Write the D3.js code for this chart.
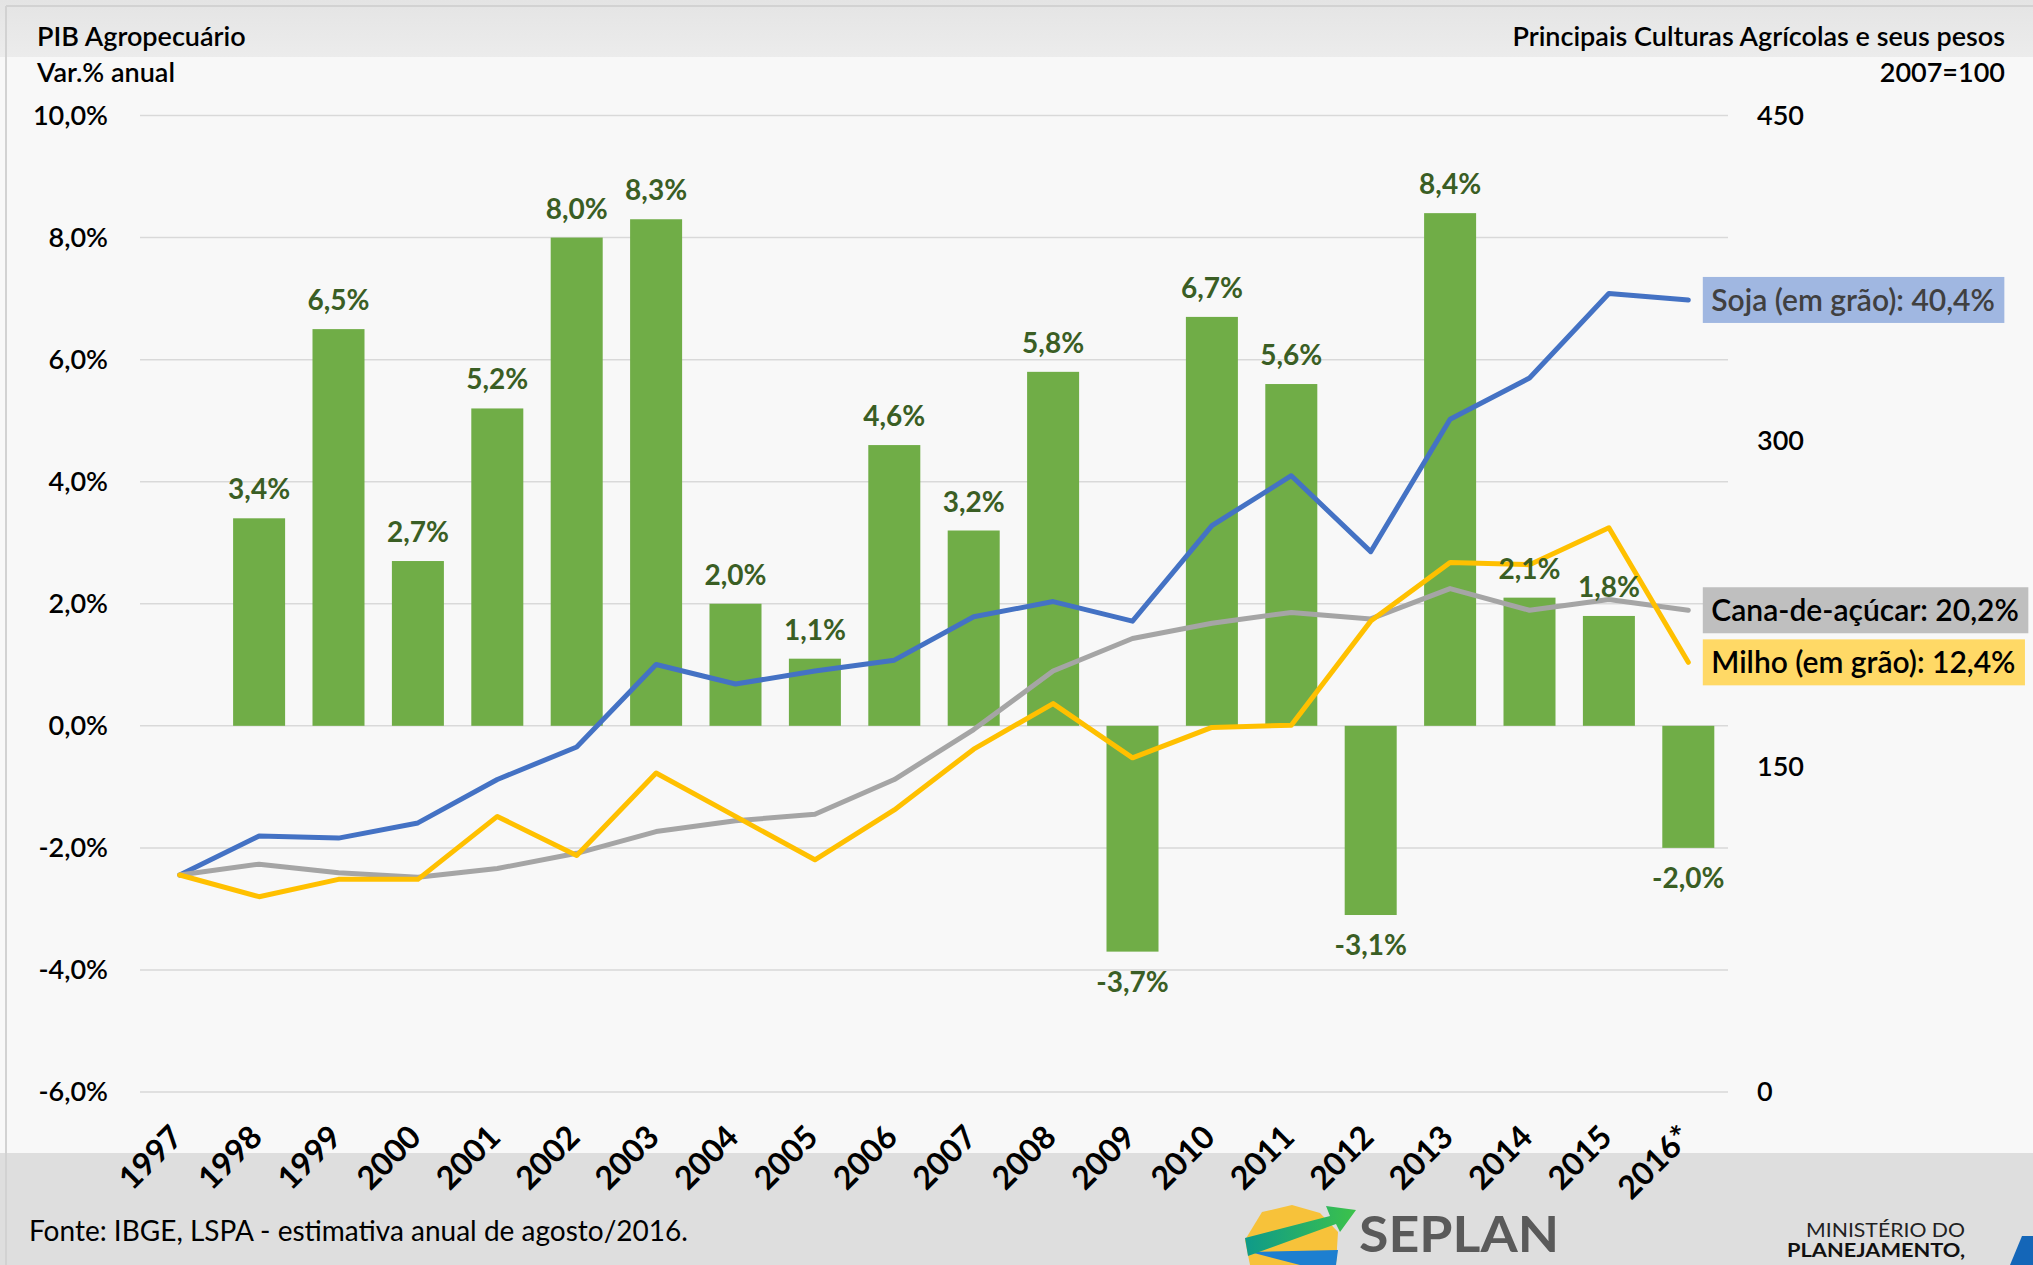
<!DOCTYPE html>
<html><head><meta charset="utf-8">
<script src="https://cdn.jsdelivr.net/npm/d3@7"></script>
<style>
html,body{margin:0;padding:0;background:#f8f8f8;}
svg{display:block;font-family:Lato,'Open Sans',sans-serif;}
</style></head><body><svg id="chart" width="2033" height="1265"></svg>
<script>
// ---------------- DATA ----------------
const years = ["1997","1998","1999","2000","2001","2002","2003","2004","2005","2006","2007","2008","2009","2010","2011","2012","2013","2014","2015","2016*"];
const pibVar = [null, 3.4, 6.5, 2.7, 5.2, 8.0, 8.3, 2.0, 1.1, 4.6, 3.2, 5.8, -3.7, 6.7, 5.6, -3.1, 8.4, 2.1, 1.8, -2.0];
const soja  = [100, 118, 117, 124, 144, 159, 197, 188, 194, 199, 219, 226, 217, 261, 284, 249, 310, 329, 368, 365];
const cana  = [100, 105, 101,  99, 103, 110, 120, 125, 128, 144, 167, 194, 209, 216, 221, 218, 232, 222, 227, 222];
const milho = [100,  90,  98,  98, 127, 109, 147, 127, 107, 130, 158, 179, 154, 168, 169, 217, 244, 243, 260, 198];
const seriesLabels = ["Soja (em grão): 40,4%", "Cana-de-açúcar: 20,2%", "Milho (em grão): 12,4%"];
const leftTicks = [-6, -4, -2, 0, 2, 4, 6, 8, 10];
const rightTicks = [0, 150, 300, 450];

// ---------------- STYLE ----------------
const lineStyles = [
  {color:"#4472C4", box:"#A0B7E1", text:"#404040"},
  {color:"#A5A5A5", box:"#BFBFBF", text:"#000000"},
  {color:"#FFC000", box:"#FFD966", text:"#000000"}
];
const seriesData = [soja, cana, milho];
const FONT = "Lato,'Open Sans',sans-serif";

const svg = d3.select("#chart");
const W = 2033, H = 1265;

// background
svg.append("rect").attr("width", W).attr("height", H).attr("fill", "#f8f8f8");
const defs = svg.append("defs");
const gTop = defs.append("linearGradient").attr("id","gtop").attr("x1",0).attr("x2",0).attr("y1",0).attr("y2",1);
gTop.append("stop").attr("offset","0").attr("stop-color","#e4e4e4");
gTop.append("stop").attr("offset","1").attr("stop-color","#ececec");
svg.append("rect").attr("x",0).attr("y",0).attr("width",W).attr("height",57).attr("fill","url(#gtop)");
svg.append("rect").attr("x",0).attr("y",1153).attr("width",W).attr("height",H-1153).attr("fill","#dedede");
svg.append("line").attr("x1",6).attr("x2",W).attr("y1",6).attr("y2",6).attr("stroke","#d2d2d2").attr("stroke-width",2);
svg.append("line").attr("x1",6).attr("x2",6).attr("y1",6).attr("y2",H).attr("stroke","#d2d2d2").attr("stroke-width",2);

// scales
const x = d3.scaleBand().domain(years).range([140, 1728]).paddingInner(0.345).paddingOuter(0.1725);
const yL = d3.scaleLinear().domain([-6, 10]).range([1092, 115.5]);
const yR = d3.scaleLinear().domain([0, 450]).range([1092, 115.5]);
const cx = d => x(d) + x.bandwidth() / 2;

const fmtPct = v => (v < 0 ? "-" : "") + Math.abs(v).toFixed(1).replace(".", ",") + "%";

// gridlines
svg.append("g").selectAll("line").data(leftTicks).join("line")
  .attr("x1", 140).attr("x2", 1728)
  .attr("y1", d => yL(d)).attr("y2", d => yL(d))
  .attr("stroke", "#d9d9d9").attr("stroke-width", 1.5);

// axes
const axL = svg.append("g").attr("transform", "translate(140,0)")
  .call(d3.axisLeft(yL).tickValues(leftTicks).tickFormat(fmtPct).tickSize(0).tickPadding(32));
axL.select(".domain").remove();
axL.selectAll("text").attr("font-size", 27).attr("font-weight", 600).attr("fill", "#000").attr("font-family", FONT);

const axR = svg.append("g").attr("transform", "translate(1728,0)")
  .call(d3.axisRight(yR).tickValues(rightTicks).tickFormat(d3.format("d")).tickSize(0).tickPadding(29));
axR.select(".domain").remove();
axR.selectAll("text").attr("font-size", 27).attr("font-weight", 600).attr("fill", "#000").attr("font-family", FONT);

const axB = svg.append("g").attr("transform", "translate(0,1092)")
  .call(d3.axisBottom(x).tickSize(0));
axB.select(".domain").remove();
axB.selectAll("text")
  .attr("font-size", 32).attr("font-weight", "bold").attr("fill", "#000")
  .attr("font-family", FONT)
  .attr("text-anchor", "end").attr("dy", null).attr("y", null)
  .attr("transform", "translate(5,47) rotate(-45)");

// bars
const barData = years.map((y, i) => ({year: y, v: pibVar[i]})).filter(d => d.v !== null);
svg.append("g").selectAll("rect").data(barData).join("rect")
  .attr("x", d => x(d.year)).attr("width", x.bandwidth())
  .attr("y", d => yL(Math.max(0, d.v)))
  .attr("height", d => Math.abs(yL(d.v) - yL(0)))
  .attr("fill", "#70AD47");

// lines
seriesData.forEach((s, k) => {
  const line = d3.line().x((d, i) => cx(years[i])).y(d => yR(d));
  svg.append("path").datum(s).attr("d", line)
    .attr("fill", "none").attr("stroke", lineStyles[k].color)
    .attr("stroke-width", 5).attr("stroke-linejoin", "round").attr("stroke-linecap", "round");
});

// bar labels
svg.append("g").selectAll("text").data(barData).join("text")
  .attr("x", d => cx(d.year))
  .attr("y", d => d.v >= 0 ? yL(d.v) - 19 : yL(d.v) + 40)
  .attr("text-anchor", "middle").attr("font-size", 28).attr("font-weight", "bold")
  .attr("fill", "#3A5E24").text(d => fmtPct(d.v));

// series end labels
seriesData.forEach((s, k) => {
  const last = s.length - 1;
  const ex = cx(years[last]), ey = yR(s[last]);
  const g = svg.append("g");
  const rect = g.append("rect").attr("fill", lineStyles[k].box);
  const t = g.append("text").attr("x", ex + 23).attr("y", ey).attr("dy", "0.36em")
    .attr("font-size", 30).attr("font-weight", 600).attr("fill", lineStyles[k].text)
    .text(seriesLabels[k]);
  const bb = t.node().getBBox();
  rect.attr("x", ex + 14.5).attr("y", ey - 23).attr("height", 46).attr("width", bb.width + 18);
});

// titles
const txt = (xx, yy, s, opts = {}) => svg.append("text").attr("x", xx).attr("y", yy)
  .attr("font-size", opts.size || 27).attr("fill", opts.fill || "#000")
  .attr("text-anchor", opts.anchor || "start").attr("font-weight", opts.weight || 600).text(s);
txt(37, 46, "PIB Agropecuário");
txt(37, 82, "Var.% anual");
txt(2005, 46, "Principais Culturas Agrícolas e seus pesos", {anchor: "end"});
txt(2005, 82, "2007=100", {anchor: "end"});
txt(29, 1241, "Fonte: IBGE, LSPA - estimativa anual de agosto/2016.", {weight: "normal", size: 28});

// logos (decorative)
const lg = svg.append("g");
const gArrow = defs.append("linearGradient").attr("id","garrow").attr("x1",0).attr("x2",1).attr("y1",0).attr("y2",0);
gArrow.append("stop").attr("offset","0").attr("stop-color","#0e9a8a");
gArrow.append("stop").attr("offset","1").attr("stop-color","#3cc24a");
lg.append("polygon").attr("points","1262,1212 1292,1205 1320,1213 1338,1232 1336,1265 1250,1265 1245,1240").attr("fill","#f7c23a");
lg.append("polygon").attr("points","1250,1252 1300,1265 1336,1265 1338,1250").attr("fill","#1d7fd0");
lg.append("polygon").attr("points","1245,1238 1330,1216 1326,1206 1356,1210 1340,1232 1336,1224 1248,1256").attr("fill","url(#garrow)");
lg.append("text").attr("x",1359).attr("y",1252).attr("font-size",50).attr("font-weight","bold")
  .attr("fill","#5a5a5a").attr("textLength",200).attr("lengthAdjust","spacingAndGlyphs").text("SEPLAN");
lg.append("text").attr("x",1965).attr("y",1237).attr("font-size",20).attr("text-anchor","end")
  .attr("fill","#222").attr("textLength",159).attr("lengthAdjust","spacingAndGlyphs").text("MINISTÉRIO DO");
lg.append("text").attr("x",1965).attr("y",1257).attr("font-size",19).attr("font-weight","bold").attr("text-anchor","end")
  .attr("fill","#111").attr("textLength",178).attr("lengthAdjust","spacingAndGlyphs").text("PLANEJAMENTO,");
lg.append("polygon").attr("points","2010,1265 2022,1236 2033,1236 2033,1265").attr("fill","#1466b8");
</script></body></html>
